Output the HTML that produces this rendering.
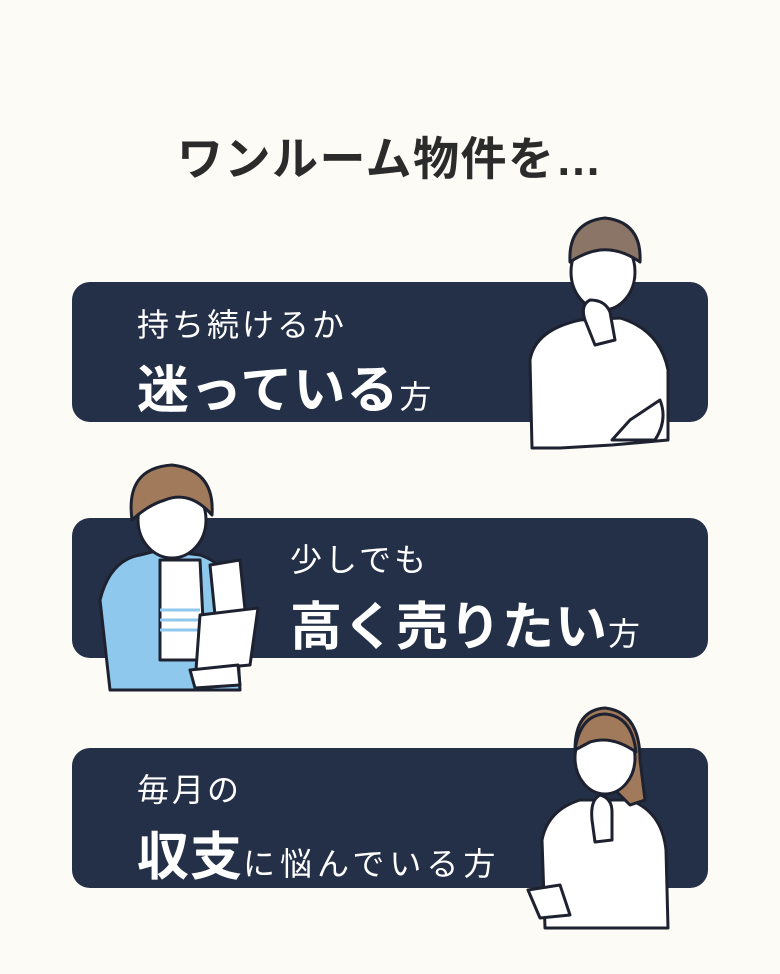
<!DOCTYPE html>
<html><head><meta charset="utf-8"><style>
html,body{margin:0;padding:0}
body{width:780px;height:974px;background:#fcfbf6;position:relative;overflow:hidden;font-family:"Liberation Sans","Noto Sans CJK JP",sans-serif;color:#fff}
.t{position:absolute;left:0;width:780px;top:123px;text-align:center;font-size:46px;font-weight:bold;color:#2b2b2b;letter-spacing:1.5px}
.box{position:absolute;left:72px;width:636px;height:140px;background:#243047;border-radius:18px}
.s{position:absolute;font-size:32px;white-space:nowrap;letter-spacing:3px}
.b{position:absolute;font-size:52px;font-weight:bold;white-space:nowrap;letter-spacing:1px}
.b small{font-size:32px;font-weight:normal;letter-spacing:3px}
svg{position:absolute;left:0;top:0}
</style></head><body>
<div class="t">ワンルーム物件を…</div>
<div class="box" style="top:282px"></div>
<div class="box" style="top:518px"></div>
<div class="box" style="top:748px"></div>
<div class="s" style="left:137px;top:300px">持ち続けるか</div>
<div class="b" style="left:137px;top:348px">迷っている<small>方</small></div>
<div class="s" style="left:290px;top:535px">少しでも</div>
<div class="b" style="left:290px;top:585px">高く売りたい<small>方</small></div>
<div class="s" style="left:137px;top:765px">毎月の</div>
<div class="b" style="left:137px;top:815px">収支<small style="letter-spacing:5px">に悩んでいる方</small></div>
<svg width="780" height="974" stroke="#1e2230" stroke-width="3" stroke-linejoin="round">
<path d="M532 448 L530 360 Q535 330 580 320 L620 318 Q660 330 668 370 L668 440 L612 445 L560 448 Z" fill="#fff"/>
<ellipse cx="603" cy="272" rx="32" ry="38" fill="#fff"/>
<path d="M570 262 Q568 222 605 218 Q642 222 640 262 Q620 248 600 250 Q585 252 570 262Z" fill="#8a7566"/>
<path d="M585 320 Q580 305 590 300 Q605 300 610 312 L615 340 L595 345 Z" fill="#fff"/>
<path d="M612 440 L655 440 Q668 420 660 400 L630 420 Z" fill="#fff"/>
<path d="M100 600 Q110 560 140 555 L160 550 L200 555 Q230 565 235 600 L240 690 L110 690 Z" fill="#8ec8ec"/>
<path d="M160 560 L200 560 L205 660 L160 660 Z" fill="#fff"/>
<path d="M160 610 H200 M160 620 H200 M160 630 H200" stroke="#8ec8ec" stroke-width="3"/>
<ellipse cx="172" cy="520" rx="34" ry="38" fill="#fff"/>
<path d="M132 520 Q125 468 172 465 Q215 470 212 515 Q190 490 165 500 Q148 505 132 520Z" fill="#a07a5a"/>
<path d="M210 565 L240 560 L245 610 L215 615 Z" fill="#fff"/>
<path d="M200 615 L258 608 L250 665 L196 670 Z" fill="#fff"/>
<path d="M190 670 L238 665 L240 685 L195 688 Z" fill="#fff"/>
<path d="M545 928 L542 840 Q548 810 580 800 L630 800 Q662 812 666 850 L668 928 Z" fill="#fff"/>
<path d="M575 750 Q575 710 605 708 Q640 712 640 760 L645 800 L630 805 Z" fill="#a07a5a"/>
<ellipse cx="605" cy="758" rx="30" ry="36" fill="#fff"/>
<path d="M575 750 Q580 715 605 714 Q632 716 636 752 Q612 735 590 742Z" fill="#a07a5a"/>
<path d="M592 820 Q590 800 600 795 Q612 798 612 812 L612 840 L595 842Z" fill="#fff"/>
<path d="M528 890 L560 885 L570 915 L540 918 Z" fill="#fff"/>
</svg>
</body></html>
